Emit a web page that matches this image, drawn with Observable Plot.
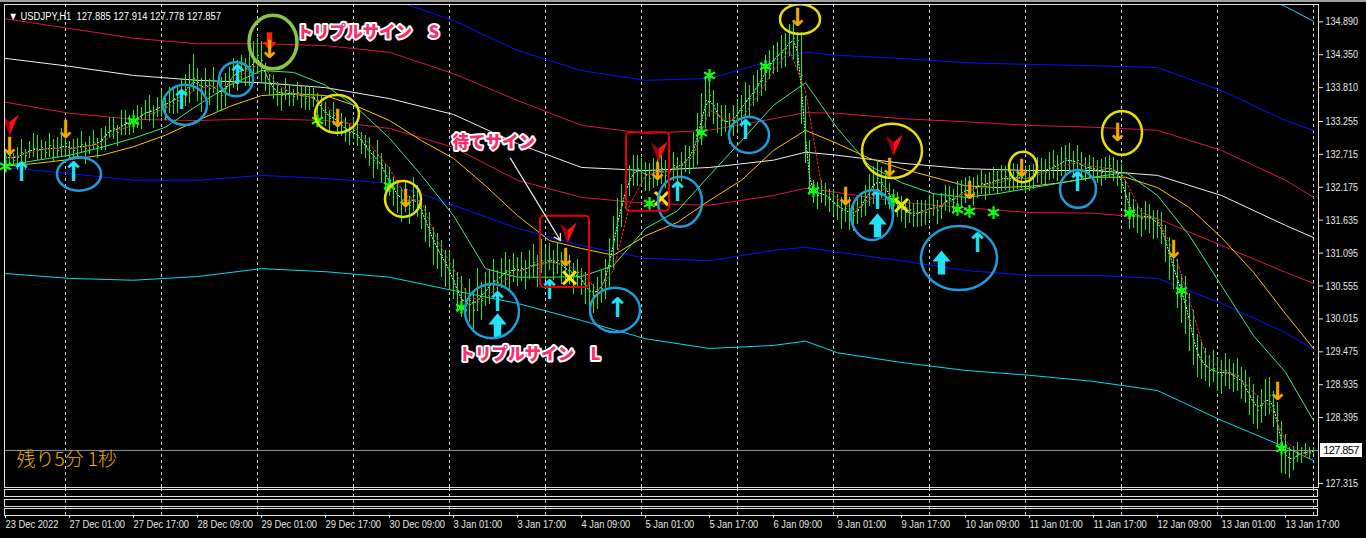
<!DOCTYPE html>
<html><head><meta charset="utf-8">
<script src="https://cdn.jsdelivr.net/npm/d3@7"></script>
<script src="https://cdn.jsdelivr.net/npm/@observablehq/plot@0.6"></script>
<style>
html,body{margin:0;padding:0;background:#000;}
#wrap{position:relative;width:1366px;height:538px;background:#000;overflow:hidden;font-family:"Liberation Sans",sans-serif;}
#wrap svg{display:block}
.box{position:absolute;left:4px;width:1314px;border:1px solid #e0e0e0;box-sizing:border-box;}
#topstrip{position:absolute;left:0;top:0;width:1366px;height:2px;background:#a0a0a0;}
#plabel{position:absolute;left:1320px;width:42px;height:14px;background:#fff;color:#000;font-size:11px;line-height:14px;text-align:center;font-family:"Liberation Sans",sans-serif;letter-spacing:-0.6px;}
.pbars path, .pbars line{stroke:#00ff00;shape-rendering:crispEdges;}
</style></head><body><div id="wrap"></div><script>
// ---------- data ----------
const timeLabels = ["23 Dec 2022","27 Dec 01:00","27 Dec 17:00","28 Dec 09:00","29 Dec 01:00","29 Dec 17:00","30 Dec 09:00","3 Jan 01:00","3 Jan 17:00","4 Jan 09:00","5 Jan 01:00","5 Jan 17:00","6 Jan 09:00","9 Jan 01:00","9 Jan 17:00","10 Jan 09:00","11 Jan 01:00","11 Jan 17:00","12 Jan 09:00","13 Jan 01:00","13 Jan 17:00"];
const yTicks = [134.890,134.350,133.810,133.255,132.715,132.175,131.635,131.095,130.555,130.015,129.475,128.935,128.395,127.315];
const lastPrice = 127.857;
const header = "\u25BC USDJPY,H1\u00a0 127.885 127.914 127.778 127.857";
const countdown = "残り5分 1秒";

// hourly closes (one per bar)
const cl = [
132.65,132.70,132.62,132.66,132.75,132.70,132.78,132.81,
132.78,132.83,132.75,132.86,132.81,132.78,132.84,132.89,
132.81,132.78,132.84,132.88,132.81,132.86,132.91,132.84,
132.94,133.03,133.11,133.14,133.07,133.19,133.24,133.21,
133.27,133.30,133.35,133.40,133.44,133.39,133.47,133.53,
133.50,133.57,133.63,133.60,133.68,133.73,133.85,133.96,
133.89,133.76,133.85,133.80,133.93,133.73,133.68,133.80,
133.93,134.01,134.06,134.09,134.12,134.06,134.22,134.34,
134.26,134.01,133.89,133.80,133.73,133.68,133.76,133.71,
133.66,133.73,133.68,133.63,133.70,133.65,133.60,133.47,
133.40,133.30,133.35,133.27,133.19,133.14,133.07,133.11,
133.03,132.94,132.86,132.78,132.62,132.70,132.53,132.37,
132.29,132.16,132.04,131.96,131.99,131.88,132.04,131.96,
131.79,131.63,131.47,131.30,131.14,131.06,130.94,130.81,
130.65,130.48,130.32,130.24,130.32,130.15,130.40,130.32,
130.48,130.56,130.65,130.61,130.73,130.81,130.78,130.84,
130.81,130.84,130.78,130.89,130.94,130.84,130.97,130.94,
131.01,130.94,130.97,130.89,130.84,130.81,130.73,130.78,
130.65,130.56,130.48,130.40,130.48,130.52,130.65,130.89,
131.30,131.55,131.88,132.12,132.29,132.42,132.48,132.45,
132.37,132.32,132.45,132.42,132.48,132.37,132.45,132.53,
132.48,132.53,132.62,132.65,132.78,132.94,133.27,133.60,
133.68,133.52,133.35,133.27,133.30,133.19,133.27,133.40,
133.44,133.60,133.63,133.73,133.85,133.93,134.06,134.17,
134.26,134.34,134.39,134.45,134.55,134.62,134.58,134.01,
132.78,132.20,132.09,132.04,132.12,132.04,131.99,131.93,
131.88,131.79,131.83,131.76,131.71,131.79,131.88,131.96,
132.12,132.20,132.32,132.25,132.16,132.04,131.96,131.88,
131.83,131.76,131.79,131.71,131.75,131.79,131.76,131.83,
131.88,131.79,131.86,131.96,131.99,131.93,132.02,132.09,
132.12,132.16,132.09,132.20,132.24,132.19,132.25,132.29,
132.25,132.32,132.35,132.29,132.32,132.37,132.34,132.29,
132.32,132.37,132.42,132.45,132.42,132.48,132.53,132.48,
132.58,132.65,132.62,132.57,132.62,132.53,132.48,132.52,
132.48,132.45,132.42,132.48,132.53,132.45,132.42,132.37,
132.04,131.79,131.76,131.71,131.66,131.73,131.70,131.63,
131.60,131.55,131.30,131.06,130.89,130.65,130.45,130.32,
129.99,129.66,129.42,129.33,129.25,129.17,129.20,129.14,
129.09,129.17,129.14,129.04,129.09,129.00,128.92,128.76,
128.64,128.51,128.59,128.68,128.76,128.59,128.35,127.94,
127.77,127.66,127.73,127.82,127.77,127.86,127.82,127.86];
// distance from close up to the bar high
const up = [
.15,.20,.12,.18,.22,.10,.16,.25, .25,.12,.18,.20,.15,.22,.30,.18,
.12,.18,.15,.22,.10,.16,.20,.14, .20,.15,.22,.18,.12,.25,.20,.15,
.18,.22,.15,.20,.25,.14,.18,.22, .20,.25,.18,.22,.28,.30,.35,.40,
.25,.20,.28,.15,.22,.18,.30,.25, .22,.28,.20,.25,.18,.30,.35,.28,
.32,.20,.15,.22,.18,.12,.20,.15, .12,.18,.15,.20,.14,.16,.12,.20,
.18,.15,.22,.12,.20,.18,.15,.22, .20,.15,.18,.22,.15,.25,.20,.18,
.22,.18,.25,.20,.28,.15,.30,.25, .20,.25,.30,.22,.28,.25,.20,.30,
.35,.30,.40,.28,.35,.30,.45,.30, .30,.25,.35,.20,.28,.30,.22,.25,
.22,.28,.20,.25,.30,.22,.35,.25, .25,.20,.30,.22,.28,.25,.20,.22,
.20,.22,.25,.18,.22,.30,.35,.45, .40,.45,.35,.30,.25,.28,.22,.20,
.22,.25,.20,.28,.22,.25,.20,.22, .20,.22,.25,.20,.30,.45,.45,.40,
.30,.25,.20,.25,.22,.20,.25,.22, .25,.30,.22,.28,.25,.30,.28,.25,
.25,.22,.28,.25,.30,.25,.15,.72, .90,.75,.20,.22,.18,.20,.15,.22,
.18,.22,.20,.25,.18,.20,.22,.25, .28,.32,.30,.25,.22,.20,.18,.22,
.20,.22,.18,.20,.22,.18,.20,.22, .20,.18,.22,.25,.20,.22,.25,.20,
.22,.20,.25,.18,.22,.20,.18,.22, .20,.22,.18,.20,.25,.18,.20,.22,
.22,.18,.25,.20,.22,.28,.25,.22, .25,.22,.28,.20,.25,.22,.20,.18,
.20,.18,.22,.20,.18,.22,.20,.18, .25,.30,.22,.20,.18,.22,.20,.18,
.20,.22,.25,.30,.28,.35,.30,.40, .45,.50,.35,.30,.28,.25,.30,.25,
.25,.28,.22,.25,.28,.22,.25,.30, .30,.25,.28,.35,.30,.25,.30,.40,
.35,.25,.20,.18,.15,.12,.10,.05];
// distance from close down to the bar low
const dn = [
.12,.18,.10,.20,.15,.22,.12,.14, .15,.20,.10,.18,.22,.12,.15,.20,
.18,.12,.20,.15,.25,.14,.12,.18, .15,.25,.12,.18,.22,.15,.20,.18,
.20,.15,.22,.12,.18,.25,.15,.20, .22,.18,.25,.20,.15,.22,.30,.20,
.30,.35,.22,.28,.20,.32,.25,.30, .25,.20,.30,.18,.28,.22,.20,.30,
.35,.25,.20,.18,.22,.25,.15,.20, .15,.12,.20,.18,.25,.15,.22,.18,
.22,.20,.15,.25,.18,.22,.20,.15, .18,.22,.20,.25,.30,.22,.28,.25,
.25,.30,.28,.35,.22,.30,.25,.28, .30,.35,.28,.40,.30,.35,.40,.32,
.30,.35,.28,.25,.35,.30,.25,.32, .25,.30,.22,.28,.20,.25,.28,.22,
.25,.20,.28,.22,.25,.30,.20,.28, .20,.28,.22,.30,.25,.22,.30,.25,
.25,.30,.35,.28,.30,.25,.30,.35, .45,.40,.35,.30,.25,.22,.28,.25,
.25,.20,.28,.22,.25,.20,.22,.25, .22,.25,.20,.25,.30,.40,.40,.45,
.35,.30,.28,.25,.22,.30,.25,.28, .28,.25,.30,.22,.28,.25,.30,.22,
.22,.28,.25,.30,.22,.35,.50,.80, .20,.15,.18,.22,.20,.18,.22,.20,
.25,.30,.22,.28,.25,.22,.20,.25, .25,.30,.22,.25,.28,.22,.25,.20,
.22,.25,.20,.18,.22,.25,.20,.18, .18,.22,.20,.18,.22,.20,.18,.22,
.20,.18,.22,.20,.18,.22,.20,.18, .18,.20,.22,.18,.20,.22,.18,.20,
.20,.22,.18,.22,.20,.18,.22,.20, .22,.25,.20,.22,.18,.22,.20,.18,
.18,.20,.22,.18,.20,.18,.22,.25, .35,.30,.25,.28,.30,.25,.28,.30,
.25,.30,.35,.40,.38,.45,.50,.55, .50,.40,.35,.30,.25,.28,.22,.30,
.30,.25,.28,.22,.25,.30,.28,.32, .35,.30,.28,.25,.30,.35,.40,.45,
.30,.25,.20,.15,.12,.10,.08,.05];

// fast (red dotted) average, one value every 4 bars + last bar
const fastMA = [132.66,132.70,132.78,132.81,132.80,132.84,132.89,133.11,133.19,133.37,133.47,133.60,133.80,133.83,133.85,134.06,134.22,133.85,133.71,133.66,133.52,133.30,133.11,132.81,132.48,132.04,131.93,131.30,130.84,130.35,130.35,130.61,130.78,130.88,130.94,130.91,130.78,130.48,130.81,131.88,132.37,132.42,132.45,132.70,133.44,133.30,133.30,133.68,134.09,134.42,133.76,132.20,131.99,131.79,131.96,132.16,131.88,131.76,131.83,131.93,132.09,132.19,132.25,132.32,132.32,132.42,132.52,132.58,132.52,132.48,132.29,131.76,131.66,131.14,130.32,129.42,129.17,129.09,128.81,128.59,128.02,127.77,127.81];
// green and yellow moving averages, one value every 8 bars + last bar
const greenMA = [132.53,132.62,132.70,132.83,132.98,133.16,133.52,133.85,134.09,134.06,133.85,133.47,132.98,132.37,131.71,130.84,130.70,130.70,130.71,130.89,131.50,131.79,132.37,132.94,133.52,133.89,133.14,132.53,132.25,132.07,132.01,132.07,132.16,132.25,132.34,132.42,132.04,131.38,130.56,129.74,129.14,128.35];
const yellowMA = [132.52,132.57,132.63,132.70,132.84,133.03,133.27,133.50,133.68,133.71,133.68,133.50,133.27,132.94,132.65,132.20,131.71,131.30,131.17,131.06,131.38,131.60,131.96,132.29,132.78,133.11,132.89,132.65,132.48,132.34,132.20,132.17,132.19,132.25,132.34,132.34,132.17,131.84,131.35,130.78,130.10,129.53];
// band sample times and band lines
const bandIdx = [0,16,32,48,64,80,96,112,128,144,160,176,192,200,208,224,240,256,272,288,304,320,327];
const whiteMid = [134.29,134.16,134.01,133.93,133.89,133.81,133.63,133.37,132.89,132.50,132.45,132.50,132.62,132.75,132.70,132.57,132.48,132.45,132.45,132.37,132.04,131.55,131.35];
const redUpper = [134.94,134.78,134.62,134.53,134.53,134.50,134.39,134.04,133.60,133.19,133.06,133.11,133.30,133.40,133.39,133.30,133.25,133.19,133.16,133.11,132.78,132.29,132.01];
const redLower = [133.57,133.39,133.29,133.27,133.30,133.27,133.14,132.83,132.29,132.01,131.91,131.88,132.04,132.16,132.09,131.93,131.84,131.76,131.75,131.66,131.22,130.78,130.60];
const blueUpper = [135.90,135.73,135.60,135.49,135.44,135.40,135.27,134.91,134.42,134.09,133.93,133.96,134.26,134.39,134.34,134.29,134.22,134.19,134.17,134.14,133.76,133.27,133.11];
const blueLower = [132.50,132.40,132.29,132.29,132.37,132.32,132.24,131.88,131.50,131.22,131.01,130.97,131.14,131.19,131.11,130.97,130.81,130.73,130.73,130.68,130.27,129.79,129.51];
const cyanLower = [130.76,130.68,130.65,130.71,130.84,130.79,130.70,130.48,130.27,129.99,129.69,129.53,129.58,129.65,129.46,129.30,129.17,129.09,128.99,128.84,128.35,127.91,127.69];
const cyanUpperIdx = [288,304,320,327];
const cyanUpper = [135.90,135.65,135.14,134.90];

// signals: [bar, price]
const stars = [[0,132.52],[32,133.26],[78,133.27],[96,132.20],[114,130.20],[161,131.91],[174,133.07],[176,134.01],[190,134.16],[202,132.12],[222,131.96],[238,131.81],[241,131.78],[247,131.76],[281,131.75],[294,130.48],[319,127.89]];
const upThin = [[4,132.42],[17,132.42],[44,133.60],[58,134.01],[123,130.29],[136,130.48],[153,130.19],[168,132.09],[185,133.11],[218,131.96],[243,131.25],[268,132.25]];
const upBold = [[123,129.91],[218,131.55],[234,130.94]];
const downThin = [[1,132.83],[15,133.11],[66,134.42],[83,133.30],[100,131.99],[140,131.02],[163,132.42],[198,134.96],[210,132.01],[221,132.49],[241,132.12],[254,132.48],[278,133.06],[292,131.14],[318,128.81]];
const downBold = [[66,134.57]];
const redHeads = [[1,133.19],[140.5,131.42],[163.25,132.75],[222,132.86]];
const crosses = [[141,130.69],[164,131.99],[224,131.88]];

// annotations: [bar from, bar to, price low, price high]
const blueRings = [[13,24,132.11,132.66],[39.5,50.5,133.19,133.85],[53.5,62,133.66,134.22],[115,128.5,129.69,130.58],[146.25,158.75,129.79,130.52],[163.25,174.25,131.52,132.34],[181,191,132.73,133.32],[211.5,222,131.30,132.12],[229,248,130.48,131.53],[263.75,272.75,131.83,132.45]];
const yellowRings = [[77.5,88.5,133.06,133.68],[95,104,131.68,132.27],[193.75,203.75,134.68,135.17],[214.25,229.25,132.32,133.21],[251,258,132.25,132.75],[274.25,284.25,132.70,133.42]];
const greenRings = [[61,73,134.11,134.99]];
const redBoxes = [[133.75,146,130.53,131.70],[155.25,166,131.78,133.07]];
const pointer = [[126.25,132.65,138.75,131.30]];
const notes = [
  {t:"トリプルサイン　S", i:72.75, p:134.71},
  {t:"待てサイン", i:111.75, p:132.90},
  {t:"トリプルサイン　L", i:113.25, p:129.43}
];

// ---------- drawing ----------
const xDom = [-0.25, 328.25];
const yDom = [127.249, 135.174];
const labelIdx = d3.range(0, 321, 16);
const gridIdx = d3.range(15, 328, 24);
const fastIdx = d3.range(0, 325, 4).concat([327]);
const maIdx = d3.range(0, 321, 8).concat([327]);
const series = (idx, vals) => vals.map((v, k) => ({i: idx[k], p: v}));
const bars = cl.map((c, i) => ({i, c, hi: c + up[i], lo: c - dn[i]}));

const sym = (pts) => ({draw(ctx, size) {
  const s = Math.sqrt(size / Math.PI) / 13;
  pts.forEach(([a, b], k) => k ? ctx.lineTo(a * s, b * s) : ctx.moveTo(a * s, b * s));
  ctx.closePath();
}});
const boldUpSym = sym([[0,-13],[10,-1],[4,-1],[4,13],[-4,13],[-4,-1],[-10,-1]]);
const boldDownSym = sym([[0,13],[10,1],[4,1],[4,-13],[-4,-13],[-4,1],[-10,1]]);
const planeL = sym([[0,12],[-9,-12],[0,-4]]);
const planeR = sym([[0,12],[0,-4],[11,-13]]);

const fx = d => d[0], fy = d => d[1];
const ring = (data, color, w) => Plot.rect(data, {x1: d => d[0], x2: d => d[1], y1: d => d[2], y2: d => d[3], fill: "none", stroke: color, strokeWidth: w, rx: 500, ry: 500, clip: true});
const lineOf = (idx, vals, color, extra = {}) => Plot.line(series(idx, vals), {x: "i", y: "p", stroke: color, strokeWidth: 1, clip: true, ...extra});
const jp = '"Noto Sans CJK JP", sans-serif';
const axisFont = {background: "transparent", color: "#e6e6e6", fontFamily: '"Liberation Sans",sans-serif', fontSize: "11px"};

const main = Plot.plot({
  width: 1366, height: 488,
  marginTop: 4, marginBottom: 1, marginLeft: 4, marginRight: 48,
  x: {domain: xDom, axis: null},
  y: {domain: yDom},
  style: axisFont,
  marks: [
    Plot.ruleX(gridIdx, {x: d => d, stroke: "#d0d0d0", strokeDasharray: "3,3"}),
    lineOf(bandIdx, cyanLower, "#00dcec"),
    lineOf(cyanUpperIdx, cyanUpper, "#00dcec"),
    lineOf(bandIdx, blueLower, "#0014ff"),
    lineOf(bandIdx, blueUpper, "#0014ff"),
    lineOf(bandIdx, redUpper, "#e0143c"),
    lineOf(bandIdx, redLower, "#e0143c"),
    lineOf(bandIdx, whiteMid, "#f0f0f0"),
    lineOf(maIdx, yellowMA, "#ffc400"),
    lineOf(maIdx, greenMA, "#38ec80"),
    Plot.line(bars, Plot.windowY({k: 3, anchor: "middle"}, {x: "i", y: "c", stroke: "#ffffff", strokeWidth: 1, strokeDasharray: "1,2", clip: true})),
    Plot.link(bars, {x1: "i", x2: "i", y1: "lo", y2: "hi", stroke: "#00ff00", strokeWidth: 1, className: "pbars", clip: true}),
    Plot.link(bars, {x1: "i", x2: d => d.i + 0.4, y1: "c", y2: "c", stroke: "#00ff00", strokeWidth: 1, className: "pbars", clip: true}),
    lineOf(fastIdx, fastMA, "#ff2020", {strokeDasharray: "2,2"}),
    Plot.ruleY([lastPrice], {stroke: "#8a93a6"}),
    Plot.dot(stars, {x: fx, y: fy, symbol: "asterisk", r: 6, stroke: "#10ff10", strokeWidth: 2.2}),
    Plot.dot(stars, {x: fx, y: fy, r: 2.5, fill: "#10ff10"}),
    Plot.text(upThin, {x: fx, y: fy, text: () => "\u2191", fill: "#22e2f6", fontSize: 27, fontWeight: "bold", fontFamily: "DejaVu Sans"}),
    Plot.dot(upBold, {x: fx, y: fy, symbol: boldUpSym, r: 12, fill: "#22e2f6"}),
    Plot.dot(downBold, {x: fx, y: fy, symbol: boldDownSym, r: 9, fill: "#ff2400"}),
    Plot.text(downThin, {x: fx, y: fy, text: () => "\u2193", fill: "#f2aa00", fontSize: 25, fontWeight: "bold", fontFamily: "DejaVu Sans"}),
    Plot.dot(redHeads, {x: fx, y: fy, symbol: planeL, r: 11, fill: "#a00010", clip: true}),
    Plot.dot(redHeads, {x: fx, y: fy, symbol: planeR, r: 11, fill: "#ff1010", clip: true}),
    Plot.dot(crosses, {x: fx, y: fy, symbol: "times", r: 6, stroke: "#ffe600", strokeWidth: 3}),
    ring(blueRings, "#1e9ddc", 2.5),
    ring(yellowRings, "#e8e000", 2.5),
    ring(greenRings, "#8cc63f", 3.5),
    Plot.rect(redBoxes, {x1: d => d[0], x2: d => d[1], y1: d => d[2], y2: d => d[3], fill: "none", stroke: "#e60000", strokeWidth: 2, rx: 4}),
    Plot.arrow(pointer, {x1: d => d[0], y1: d => d[1], x2: d => d[2], y2: d => d[3], stroke: "#e8e8e8", strokeWidth: 1.2, headLength: 9}),
    Plot.text(notes, {x: "i", y: "p", text: "t", textAnchor: "start", fill: "#ff2a6a", stroke: "#ffffff", strokeWidth: 4, paintOrder: "stroke", strokeLinejoin: "round", fontSize: 16.5, fontWeight: 900, fontFamily: jp}),
    Plot.text([header], {frameAnchor: "top-left", dx: 4, dy: 8, textAnchor: "start", fill: "#ffffff", fontSize: 11, className: "sqhdr"}),
    Plot.text([countdown], {frameAnchor: "bottom-left", dx: 12, dy: -22, textAnchor: "start", fill: "#e8b000", fontSize: 19, fontWeight: 300, fontFamily: jp}),
    Plot.frame({stroke: "#e0e0e0"}),
    Plot.axisY({anchor: "right", ticks: yTicks, tickFormat: d => d.toFixed(3), tickSize: 4, tickPadding: 3, label: null, fontSize: 11})
  ]
});

const bottom = Plot.plot({
  width: 1366, height: 50,
  marginTop: 0, marginBottom: 23, marginLeft: 4, marginRight: 48,
  x: {domain: xDom},
  y: {domain: [0, 1], axis: null},
  style: axisFont,
  marks: [
    Plot.ruleX(gridIdx, {x: d => d, stroke: "#d0d0d0", strokeDasharray: "3,3"}),
    Plot.axisX({ticks: labelIdx, tickFormat: d => timeLabels[labelIdx.indexOf(d)], textAnchor: "start", tickSize: 3, tickPadding: 2, label: null, fontSize: 11})
  ]
});

// narrow the MT4-style label text horizontally about its own anchor point
function squeeze(nodes, s) {
  nodes.forEach(t => {
    const tr = t.getAttribute("transform") || "";
    const xa = t.getAttribute("x");
    let pre = "";
    if (xa !== null && xa !== "" && !isNaN(+xa)) { pre = ` translate(${+xa},0)`; t.setAttribute("x", 0); }
    t.setAttribute("transform", `${tr}${pre} scale(${s},1)`);
  });
}
squeeze(main.querySelectorAll('g[aria-label="y-axis tick label"] text'), 0.82);
squeeze(bottom.querySelectorAll('g[aria-label="x-axis tick label"] text'), 0.85);
squeeze(main.querySelectorAll('.sqhdr text, text.sqhdr'), 0.86);

const wrap = document.getElementById("wrap");
wrap.appendChild(main);
wrap.appendChild(bottom);
const strip = document.createElement("div"); strip.id = "topstrip"; wrap.appendChild(strip);
[[489, 8], [499, 8], [508, 8]].forEach(([t, h]) => {
  const b = document.createElement("div"); b.className = "box";
  b.style.top = t + "px"; b.style.height = h + "px"; wrap.appendChild(b);
});
const pl = document.createElement("div"); pl.id = "plabel";
pl.textContent = lastPrice.toFixed(3);
pl.style.top = (main.scale("y").apply(lastPrice) - 7) + "px";
wrap.appendChild(pl);
</script></body></html>
